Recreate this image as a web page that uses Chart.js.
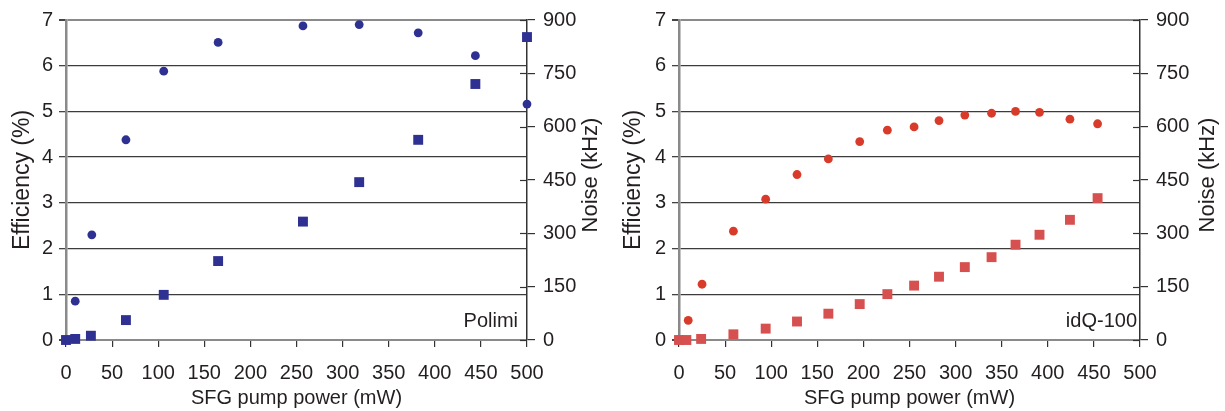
<!DOCTYPE html>
<html>
<head>
<meta charset="utf-8">
<script src="https://cdn.jsdelivr.net/npm/chart.js@4/dist/chart.umd.min.js"></script>
<style>
  html, body { margin: 0; padding: 0; background: #fff; }
  #wrap { position: relative; width: 1225px; height: 411px; }
  canvas { position: absolute; top: 0; }
</style>
</head>
<body>
<div id="wrap">
  <canvas id="polimiChart" width="612" height="411" style="left:0"></canvas>
  <canvas id="idqChart" width="613" height="411" style="left:612px"></canvas>
</div>
<script>
// Polimi detector
const polimiEffPower = [10, 28, 65, 106, 165, 257, 318, 382, 444, 500];
const polimiEff = [0.85, 2.30, 4.38, 5.88, 6.51, 6.87, 6.90, 6.72, 6.22, 5.16];
const polimiNoisePower = [0, 10, 27, 65, 106, 165, 257, 318, 382, 444, 500];
const polimiNoise = [0, 3, 12, 56, 127, 222, 333, 444, 563, 720, 852];

// idQ-100 detector
const idqEffPower = [10, 25, 59, 94, 128, 162, 196, 226, 255, 282, 310, 339, 365, 391, 424, 454];
const idqEff = [0.43, 1.22, 2.38, 3.08, 3.62, 3.96, 4.34, 4.59, 4.66, 4.80, 4.92, 4.96, 5.00, 4.98, 4.83, 4.73];
const idqNoisePower = [0, 8, 24, 59, 94, 128, 162, 196, 226, 255, 282, 310, 339, 365, 391, 424, 454];
const idqNoise = [0, 0, 3, 16, 32, 52, 74, 101, 129, 153, 178, 205, 233, 268, 296, 338, 399];

const xTitle = 'SFG pump power (mW)';
const effTitle = 'Efficiency (%)';
const noiseTitle = 'Noise (kHz)';

const FONT = '"Liberation Sans", Arial, Helvetica, sans-serif';
const TEXT = '#231f20';

const toPoints = (xs, ys) => xs.map((x, i) => ({ x: x, y: ys[i] }));

// inner tick marks on the noise axis, the noise title (reads bottom-up) and the corner label
const extrasPlugin = {
  id: 'extras',
  beforeDatasetsDraw(chart) {
    const ctx = chart.ctx;
    const area = chart.chartArea;
    const y2 = chart.scales.y2;
    ctx.save();
    ctx.strokeStyle = '#333';
    ctx.lineWidth = 1.2;
    y2.ticks.forEach(t => {
      const py = Math.round(y2.getPixelForValue(t.value)) + 0.5;
      ctx.beginPath();
      ctx.moveTo(area.right - 7, py);
      ctx.lineTo(area.right, py);
      ctx.stroke();
    });
    ctx.restore();
  },
  afterDraw(chart, args, opts) {
    const ctx = chart.ctx;
    const area = chart.chartArea;
    ctx.save();
    ctx.font = '20px ' + FONT;
    ctx.fillStyle = TEXT;
    ctx.textAlign = 'right';
    ctx.textBaseline = 'alphabetic';
    ctx.fillText(opts.label, area.right - opts.dx, area.bottom - 13);

    ctx.translate(chart.width - opts.noiseOffset, (area.top + area.bottom) / 2 - 5);
    ctx.rotate(-Math.PI / 2);
    ctx.font = '22px ' + FONT;
    ctx.textAlign = 'center';
    ctx.textBaseline = 'middle';
    ctx.fillText(noiseTitle, 0, 0);
    ctx.restore();
  }
};

function makeChart(id, cfg) {
  const canvas = document.getElementById(id);
  return new Chart(canvas, {
    type: 'scatter',
    data: {
      datasets: [
        {
          label: 'Efficiency',
          data: toPoints(cfg.effX, cfg.effY),
          yAxisID: 'y',
          pointStyle: 'circle',
          pointRadius: 4.4,
          pointHoverRadius: 4.4,
          backgroundColor: cfg.circleColor,
          borderColor: cfg.circleColor,
          borderWidth: 0,
          clip: false
        },
        {
          label: 'Noise',
          data: toPoints(cfg.noiseX, cfg.noiseY),
          yAxisID: 'y2',
          pointStyle: 'rect',
          pointRadius: 7,
          pointHoverRadius: 7,
          backgroundColor: cfg.squareColor,
          borderColor: cfg.squareColor,
          borderWidth: 0,
          clip: false
        }
      ]
    },
    options: {
      responsive: false,
      animation: false,
      devicePixelRatio: 1,
      layout: { padding: { top: 20, left: 0, right: 0, bottom: 0 } },
      plugins: {
        legend: { display: false },
        tooltip: { enabled: false },
        extras: { label: cfg.label, dx: cfg.labelDx, noiseOffset: cfg.noiseOffset }
      },
      scales: {
        x: {
          type: 'linear',
          min: 0,
          max: 500,
          ticks: { stepSize: 50, padding: 14, color: TEXT, font: { size: 20, family: FONT } },
          grid: { drawOnChartArea: false, drawTicks: true, tickLength: 7, tickColor: '#333', lineWidth: 1.2 },
          border: { display: true, color: '#8a8a8a', width: 2 },
          title: {
            display: true, text: xTitle, color: TEXT,
            font: { size: 20, family: FONT }, padding: { top: 0, bottom: 1 }
          },
          afterFit: s => { s.height = 71; }
        },
        y: {
          type: 'linear',
          position: 'left',
          min: 0,
          max: 7,
          ticks: { stepSize: 1, padding: 6, color: TEXT, font: { size: 20, family: FONT } },
          grid: {
            drawTicks: true,
            tickLength: 7,
            tickColor: '#444',
            color: c => (c.tick.value === 0 || c.tick.value === 7) ? '#8a8a8a' : '#3c3c3c',
            lineWidth: c => (c.tick.value === 0 || c.tick.value === 7) ? 2 : 1.3
          },
          border: { display: true, color: '#8a8a8a', width: 2.5 },
          title: {
            display: true, text: effTitle, color: TEXT,
            font: { size: 23, family: FONT }, padding: { top: cfg.yTitlePad, bottom: 0 }
          },
          afterFit: s => { s.width = cfg.yWidth; }
        },
        y2: {
          type: 'linear',
          position: 'right',
          min: 0,
          max: 900,
          ticks: { stepSize: 150, padding: 8, color: TEXT, font: { size: 20, family: FONT } },
          grid: { drawOnChartArea: false, drawTicks: true, tickLength: 8, tickColor: '#333', lineWidth: 1.2 },
          border: { display: true, color: '#333', width: 1.5 },
          title: { display: false },
          afterFit: s => { s.width = 85; }
        }
      }
    },
    plugins: [extrasPlugin]
  });
}

makeChart('polimiChart', {
  effX: polimiEffPower, effY: polimiEff,
  noiseX: polimiNoisePower, noiseY: polimiNoise,
  circleColor: '#2e3192', squareColor: '#2e3192',
  label: 'Polimi', labelDx: 9,
  yWidth: 66, yTitlePad: 9, noiseOffset: 21
});

makeChart('idqChart', {
  effX: idqEffPower, effY: idqEff,
  noiseX: idqNoisePower, noiseY: idqNoise,
  circleColor: '#d93b2b', squareColor: '#d65050',
  label: 'idQ-100', labelDx: 3,
  yWidth: 67, yTitlePad: 8, noiseOffset: 17
});
</script>
</body>
</html>
